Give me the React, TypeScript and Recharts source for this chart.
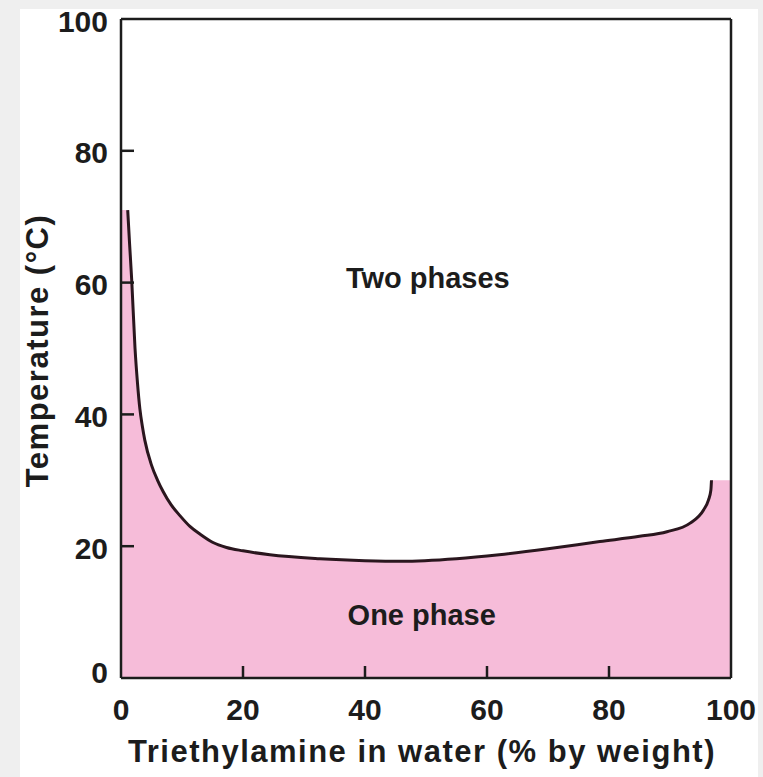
import React from 'react';
import { ComposedChart, Area, Line, XAxis, YAxis, ReferenceLine, ReferenceDot, Label } from 'recharts';

// Triethylamine (% by weight) along the phase boundary curve
const curveX = [1.1, 1.4, 1.75, 2.3, 2.7, 3.1, 3.5, 3.9, 5.0, 6.0, 6.9, 8.2, 9.7, 11.3, 13, 15, 17.3, 20, 24.4, 32.6, 40, 46, 55, 62, 70, 78.5, 85, 89.5, 93.3, 95.5, 96.3, 96.7, 96.8];
// Temperature (°C) along the phase boundary curve
const curveT = [71, 66, 60.5, 50, 44.8, 40.8, 38.2, 36.1, 32.3, 30.0, 28.3, 26.3, 24.6, 23.0, 21.8, 20.6, 19.8, 19.3, 18.7, 18.1, 17.8, 17.7, 18.1, 18.7, 19.6, 20.7, 21.5, 22.2, 23.5, 25.5, 27, 28.5, 30];
// One-phase region fill (extends to the axes)
const fillX = [0, ...curveX, 100];
const fillT = [71, ...curveT, 30];

const xTicks = [0, 20, 40, 60, 80, 100];
const yTicks = [0, 20, 40, 60, 80, 100];

const regionLabels = [
  { x: 50.3, y: 60.8, text: 'Two phases' },
  { x: 49.3, y: 9.6, text: 'One phase' },
];

const xTitle = 'Triethylamine in water (% by weight)';
const yTitle = 'Temperature (°C)';

const FONT = '"Liberation Sans", Arial, sans-serif';
const INK = '#1c1c1c';

const curveData = curveX.map((x, i) => ({ x, t: curveT[i] }));
const fillData = fillX.map((x, i) => ({ x, t: fillT[i] }));

const XTick = (props: any) => {
  const { x, y, payload } = props;
  const v = payload.value;
  const showMark = v !== 0 && v !== 100;
  return (
    <g>
      {showMark && <line x1={x} y1={y} x2={x} y2={y - 12} stroke={INK} strokeWidth={2.5} />}
      <text x={x} y={y + 31} textAnchor="middle" dominantBaseline="central" fontFamily={FONT} fontWeight="bold" fontSize={30} fill={INK}>
        {v}
      </text>
    </g>
  );
};

const YTick = (props: any) => {
  const { x, y, payload } = props;
  const v = payload.value;
  const showMark = v !== 0 && v !== 100;
  return (
    <g>
      {showMark && <line x1={x} y1={y} x2={x + 13} y2={y} stroke={INK} strokeWidth={2.5} />}
      <text x={x - 13} y={v === 0 ? y - 6 : y + 2} textAnchor="end" dominantBaseline="central" fontFamily={FONT} fontWeight="bold" fontSize={30} fill={INK}>
        {v}
      </text>
    </g>
  );
};

export default function App() {
  return (
    <div style={{ position: 'absolute', left: 0, top: 0, width: 763, height: 777, background: '#efefef' }}>
      <div style={{ position: 'absolute', left: 20, top: 9, width: 738, height: 768, background: '#ffffff' }} />
      <div style={{ position: 'absolute', left: 0, top: 0 }}>
        <ComposedChart width={763} height={777} margin={{ top: 19, left: 120, right: 32, bottom: 98 }}>
          <XAxis
            type="number"
            dataKey="x"
            domain={[0, 100]}
            ticks={xTicks}
            height={1}
            tickSize={0}
            tickMargin={0}
            tick={<XTick />}
            axisLine={{ stroke: INK, strokeWidth: 2.5 }}
            tickLine={false}
            interval={0}
            allowDataOverflow
          >
            <Label
              content={(p: any) => {
                const vb = p.viewBox;
                return (
                  <text x={vb.x + vb.width / 2 - 4} y={751} textAnchor="middle" dominantBaseline="central" fontFamily={FONT} fontWeight="bold" fontSize={31} letterSpacing={1.5} fill={INK}>
                    {xTitle}
                  </text>
                );
              }}
            />
          </XAxis>
          <YAxis
            type="number"
            domain={[0, 100]}
            ticks={yTicks}
            width={1}
            tickSize={0}
            tickMargin={0}
            tick={<YTick />}
            axisLine={{ stroke: INK, strokeWidth: 2.5 }}
            tickLine={false}
            interval={0}
            allowDataOverflow
          >
            <Label
              content={(p: any) => {
                const vb = p.viewBox;
                const cx = 37;
                const cy = vb.y + vb.height / 2 + 2;
                return (
                  <text x={cx} y={cy} transform={`rotate(-90 ${cx} ${cy})`} textAnchor="middle" dominantBaseline="central" fontFamily={FONT} fontWeight="bold" fontSize={31} letterSpacing={1.5} fill={INK}>
                    {yTitle}
                  </text>
                );
              }}
            />
          </YAxis>
          <Area
            data={fillData}
            dataKey="t"
            type="monotoneX"
            stroke="none"
            fill="#f6bcd9"
            fillOpacity={1}
            isAnimationActive={false}
            activeDot={false}
          />
          <Line
            data={curveData}
            dataKey="t"
            type="monotoneX"
            stroke="#2a161e"
            strokeWidth={3}
            dot={false}
            activeDot={false}
            isAnimationActive={false}
          />
          <ReferenceLine y={100} stroke={INK} strokeWidth={2.5} />
          <ReferenceLine x={100} stroke={INK} strokeWidth={2.5} />
          {regionLabels.map((r) => (
            <ReferenceDot key={r.text} x={r.x} y={r.y} r={0} stroke="none" fill="none"
              label={{ value: r.text, position: 'center', fontFamily: FONT, fontWeight: 'bold', fontSize: 29, fill: INK }} />
          ))}
        </ComposedChart>
      </div>
    </div>
  );
}
